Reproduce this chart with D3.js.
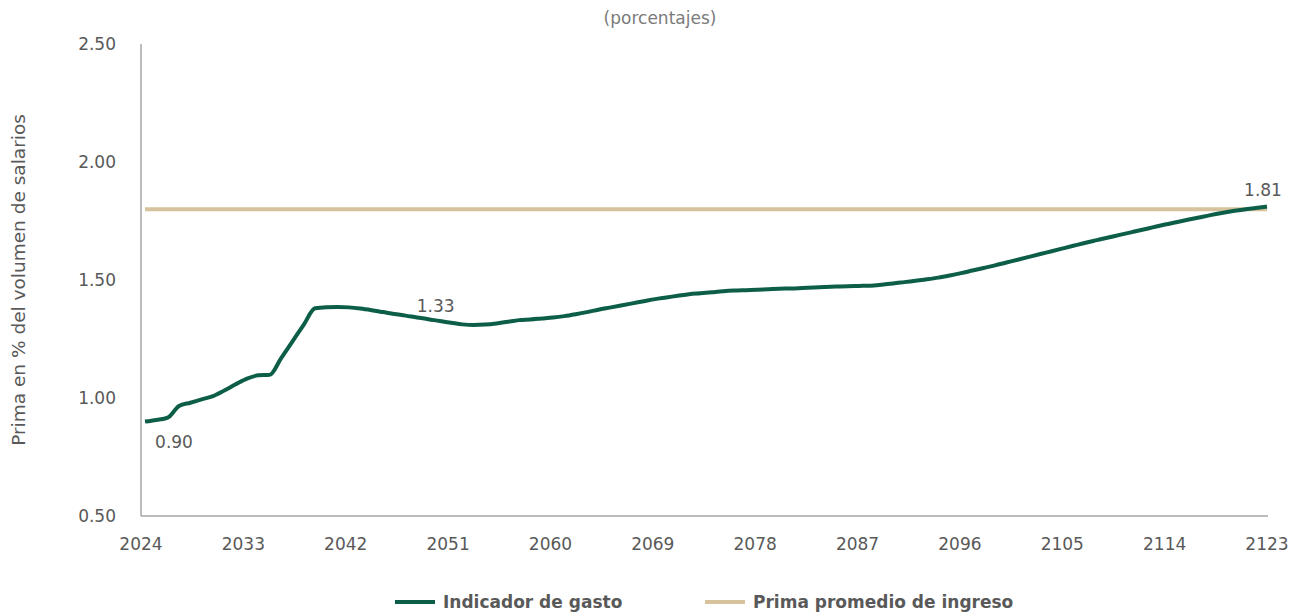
<!DOCTYPE html>
<html>
<head>
<meta charset="utf-8">
<script src="https://cdn.jsdelivr.net/npm/d3@7"></script>
<style>
  body { margin: 0; background: #fff; }
  text { font-family: "DejaVu Sans", sans-serif; fill: #595959; }
</style>
</head>
<body>
<div id="chart"></div>
<script>
// DATA
var startYear = 2024;
var gasto = [
  0.900, 0.907, 0.917, 0.966, 0.980, 0.994, 1.008, 1.032, 1.058, 1.082,
  1.096, 1.098, 1.168, 1.239, 1.310, 1.380, 1.385, 1.386, 1.384, 1.379,
  1.372, 1.364, 1.356, 1.349, 1.341, 1.334, 1.326, 1.319, 1.312, 1.309,
  1.311, 1.316, 1.323, 1.330, 1.333, 1.337, 1.341, 1.347, 1.355, 1.364,
  1.374, 1.383, 1.392, 1.401, 1.410, 1.419, 1.426, 1.433, 1.440, 1.444,
  1.448, 1.452, 1.455, 1.457, 1.459, 1.461, 1.463, 1.464, 1.466, 1.468,
  1.470, 1.472, 1.474, 1.475, 1.476, 1.480, 1.485, 1.491, 1.497, 1.503,
  1.510, 1.519, 1.529, 1.540, 1.551, 1.562, 1.574, 1.586, 1.598, 1.610,
  1.622, 1.634, 1.646, 1.658, 1.669, 1.680, 1.691, 1.702, 1.713, 1.724,
  1.735, 1.745, 1.755, 1.765, 1.775, 1.784, 1.792, 1.799, 1.805, 1.811
];
var primaIngreso = 1.80;
var xTicks = [2024, 2033, 2042, 2051, 2060, 2069, 2078, 2087, 2096, 2105, 2114, 2123];
var yTicks = [0.50, 1.00, 1.50, 2.00, 2.50];
var labelYears = [2024, 2050, 2123];
var labelTexts = ["0.90", "1.33", "1.81"];
var seriesNames = ["Indicador de gasto", "Prima promedio de ingreso"];
var colors = ["#0d5e48", "#d6c29c"];

var years = d3.range(startYear, startYear + 100);
var gastoData = years.map(function(y, i) { return {year: y, value: gasto[i]}; });

var W = 1299, H = 613;
var svg = d3.select("#chart").append("svg")
  .attr("width", W).attr("height", H);

// SCALES
var x = d3.scaleLinear().domain([2024, 2123]).range([145, 1267]);
var y = d3.scaleLinear().domain([0.5, 2.5]).range([516, 44]);

// axes lines
svg.append("line")
  .attr("x1", 141).attr("x2", 141).attr("y1", 44).attr("y2", 516)
  .attr("stroke", "#a6a6a6").attr("stroke-width", 1.5);
svg.append("line")
  .attr("x1", 141).attr("x2", 1268).attr("y1", 516).attr("y2", 516)
  .attr("stroke", "#a6a6a6").attr("stroke-width", 1.5);

// tick labels
svg.selectAll(".ytick").data(yTicks).enter().append("text")
  .attr("class", "ytick")
  .attr("x", 116).attr("y", function(d) { return y(d); })
  .attr("dy", "0.35em")
  .attr("text-anchor", "end")
  .style("font-size", "17px")
  .text(function(d) { return d3.format(".2f")(d); });

svg.selectAll(".xtick").data(xTicks).enter().append("text")
  .attr("class", "xtick")
  .attr("x", function(d) { return x(d) - 4 * (1 - (d - 2024) / 99); })
  .attr("y", 550)
  .attr("text-anchor", "middle")
  .style("font-size", "17px")
  .text(function(d) { return d; });

// axis title
svg.append("text")
  .attr("transform", "translate(25,280) rotate(-90)")
  .attr("text-anchor", "middle")
  .style("font-size", "18.5px")
  .text("Prima en % del volumen de salarios");

// subtitle
svg.append("text")
  .attr("x", 660).attr("y", 24)
  .attr("text-anchor", "middle")
  .style("font-size", "17px")
  .style("fill", "#7a7a7a")
  .text("(porcentajes)");

// LINES
svg.append("path")
  .datum(years)
  .attr("fill", "none")
  .attr("stroke", colors[1])
  .attr("stroke-width", 4)
  .attr("d", d3.line()
    .x(function(d) { return x(d); })
    .y(function() { return y(primaIngreso); }));

svg.append("path")
  .datum(gastoData)
  .attr("fill", "none")
  .attr("stroke", colors[0])
  .attr("stroke-width", 4)
  .attr("stroke-linejoin", "round")
  .attr("d", d3.line()
    .curve(d3.curveMonotoneX)
    .x(function(d) { return x(d.year); })
    .y(function(d) { return y(d.value); }));

// data labels
var labelOffsets = [[29, 20], [-4, -15], [-4, -17]];
svg.selectAll(".dlabel").data(labelYears).enter().append("text")
  .attr("class", "dlabel")
  .attr("x", function(d, i) { return x(d) + labelOffsets[i][0]; })
  .attr("y", function(d, i) { return y(gasto[d - startYear]) + labelOffsets[i][1]; })
  .attr("dy", "0.35em")
  .attr("text-anchor", "middle")
  .style("font-size", "17px")
  .text(function(d, i) { return labelTexts[i]; });

// LEGEND
var legendX = [395, 705];
var legend = svg.selectAll(".legend").data(seriesNames).enter().append("g")
  .attr("class", "legend")
  .attr("transform", function(d, i) { return "translate(" + legendX[i] + ",602)"; });
legend.append("line")
  .attr("x1", 0).attr("x2", 40)
  .attr("stroke", function(d, i) { return colors[i]; })
  .attr("stroke-width", 4);
legend.append("text")
  .attr("x", 48).attr("dy", "0.35em")
  .style("font-size", "17px")
  .style("font-weight", "bold")
  .text(function(d) { return d; });
</script>
</body>
</html>
